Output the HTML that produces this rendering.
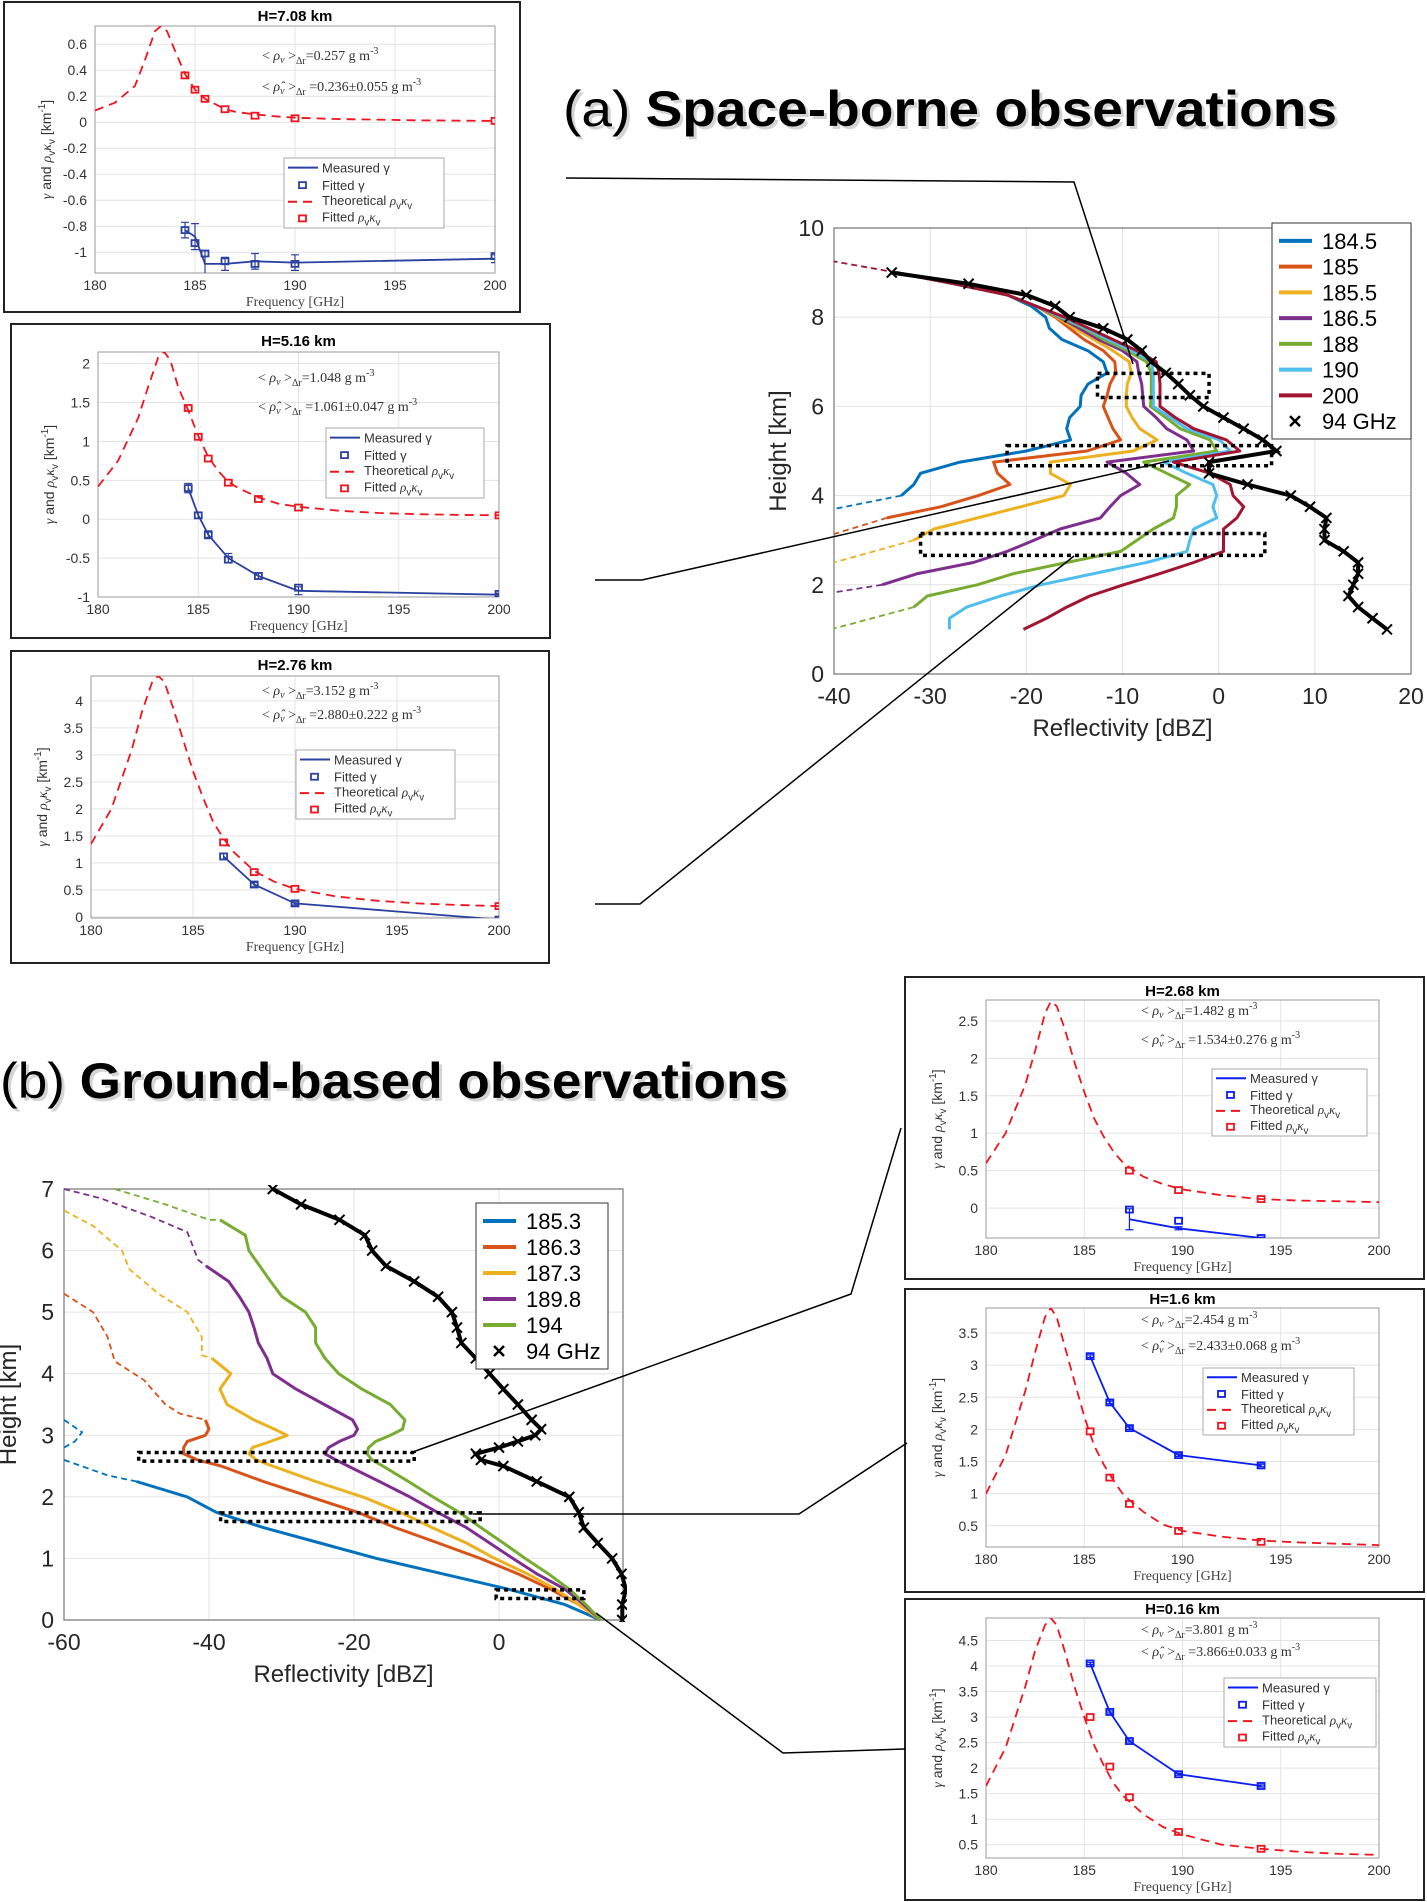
<!DOCTYPE html>
<html><head><meta charset="utf-8"><title>Space-borne and ground-based radar observations</title>
<style>
html,body{margin:0;padding:0;background:#fff;}
svg{display:block;font-family:"Liberation Sans",sans-serif;}
</style></head>
<body>
<svg id="fig" xmlns="http://www.w3.org/2000/svg" width="1427" height="1902" viewBox="0 0 1427 1902">
<rect x="0" y="0" width="1427" height="1902" fill="#fff"/>
<g>
<text x="566" y="129" font-size="50" fill="#aaa" opacity="0.5" textLength="774" lengthAdjust="spacingAndGlyphs">(a) <tspan font-weight="bold">Space-borne observations</tspan></text>
<text x="563" y="126" font-size="50" fill="#000" textLength="774" lengthAdjust="spacingAndGlyphs">(a) <tspan font-weight="bold">Space-borne observations</tspan></text>
</g>
<g>
<text x="3" y="1101" font-size="50" fill="#aaa" opacity="0.5" textLength="788" lengthAdjust="spacingAndGlyphs">(b) <tspan font-weight="bold">Ground-based observations</tspan></text>
<text x="0" y="1098" font-size="50" fill="#000" textLength="788" lengthAdjust="spacingAndGlyphs">(b) <tspan font-weight="bold">Ground-based observations</tspan></text>
</g>
</svg>
<script>
// ---------- data: small panels ----------
const THEO_FREQ = [180,181,182,182.5,183,183.3,183.6,184,184.5,185,185.5,186,186.5,187,188,189,190,192,194,196,198,200];

const P1_THEO = [0.09,0.15,0.28,0.48,0.70,0.74,0.70,0.55,0.37,0.25,0.18,0.14,0.10,0.08,0.06,0.045,0.035,0.025,0.02,0.015,0.012,0.01];
const P1_FREQ = [184.5,185,185.5,186.5,188,190,200];
const P1_FIT = [0.36,0.25,0.18,0.10,0.05,0.03,0.01];
const P1_MEAS = [-0.83,-0.88,-1.09,-1.09,-1.07,-1.08,-1.05];
const P1_SQ = [-0.83,-0.93,-1.01,-1.07,-1.09,-1.09,-1.03];
const P1_ERR = [0.06,0.1,0.1,0.05,0.06,0.06,0.03];

const P2_THEO = [0.42,0.75,1.3,1.7,2.08,2.15,2.05,1.7,1.4,1.07,0.8,0.62,0.48,0.4,0.28,0.2,0.16,0.11,0.08,0.065,0.055,0.05];
const P2_FREQ = [184.5,185,185.5,186.5,188,190,200];
const P2_FIT = [1.43,1.06,0.78,0.47,0.26,0.15,0.05];
const P2_MEAS = [0.4,0.05,-0.2,-0.5,-0.73,-0.92,-0.97];
const P2_SQ = [0.4,0.05,-0.2,-0.52,-0.73,-0.88,-0.96];
const P2_ERR = [0.06,0.04,0.05,0.06,0.04,0.05,0.02];

const P3_THEO = [1.35,2.0,3.1,3.8,4.35,4.46,4.35,3.9,3.3,2.7,2.2,1.75,1.45,1.2,0.85,0.65,0.52,0.38,0.3,0.25,0.22,0.2];
const P3_FREQ = [186.5,188,190,200];
const P3_FIT = [1.38,0.83,0.52,0.2];
const P3_MEAS = [1.12,0.6,0.25,-0.05];
const P3_SQ = [1.12,0.6,0.25,-0.05];
const P3_ERR = [0.06,0.04,0.03,0.02];

const P4_THEO = [0.6,1.0,1.65,2.1,2.6,2.76,2.7,2.4,1.95,1.55,1.2,0.95,0.75,0.6,0.42,0.32,0.25,0.17,0.12,0.1,0.09,0.08];
const P4_FREQ = [187.3,189.8,194];
const P4_FIT = [0.5,0.24,0.12];
const P4_MEAS = [-0.15,-0.27,-0.4];
const P4_SQ = [-0.02,-0.17,-0.4];
const P4_ERR = [0.14,0.02,0.01];

const P5_THEO = [1.0,1.6,2.6,3.2,3.75,3.89,3.75,3.3,2.75,2.2,1.75,1.45,1.2,0.98,0.72,0.52,0.42,0.33,0.27,0.24,0.22,0.2];
const P5_FREQ = [185.3,186.3,187.3,189.8,194];
const P5_FIT = [1.97,1.25,0.84,0.42,0.25];
const P5_MEAS = [3.14,2.42,2.02,1.6,1.44];
const P5_SQ = [3.14,2.42,2.02,1.6,1.44];
const P5_ERR = [0.02,0.02,0.02,0.02,0.02];

const P6_THEO = [1.65,2.4,3.6,4.3,4.8,4.94,4.8,4.3,3.6,3.0,2.45,2.05,1.7,1.45,1.1,0.85,0.7,0.5,0.42,0.36,0.32,0.3];
const P6_FREQ = [185.3,186.3,187.3,189.8,194];
const P6_FIT = [3.0,2.03,1.43,0.75,0.42];
const P6_MEAS = [4.05,3.1,2.53,1.88,1.65];
const P6_SQ = [4.05,3.1,2.53,1.88,1.65];
const P6_ERR = [0.02,0.02,0.02,0.02,0.02];

const FREQ_TICKS = [180,185,190,195,200];
const P1_YTICKS = [-1,-0.8,-0.6,-0.4,-0.2,0,0.2,0.4,0.6];
const P2_YTICKS = [-1,-0.5,0,0.5,1,1.5,2];
const P3_YTICKS = [0,0.5,1,1.5,2,2.5,3,3.5,4];
const P4_YTICKS = [0,0.5,1,1.5,2,2.5];
const P5_YTICKS = [0.5,1,1.5,2,2.5,3,3.5];
const P6_YTICKS = [0.5,1,1.5,2,2.5,3,3.5,4,4.5];

// ---------- data: space-borne profiles ----------
const A_HEIGHTS = [9.0,8.75,8.5,8.25,8.0,7.75,7.5,7.25,7.0,6.75,6.5,6.25,6.0,5.75,5.5,5.25,5.0,4.75,4.5,4.25,4.0,3.75,3.5,3.25,3.0,2.75,2.5,2.25,2.0,1.75,1.5,1.25,1.0];
const A_LABELS = ['184.5','185','185.5','186.5','188','190','200'];
const A_184 = [-33.5,-27.5,-22,-19.5,-18,-17.6,-16.3,-13.6,-12,-11.6,-13.6,-14.3,-14.4,-15.5,-15.8,-15.4,-20,-26.9,-31,-31.7,-33,null,null,null,null,null,null,null,null,null,null,null,null];
const A_185 = [-33.5,-27.5,-22,-19,-17,-15.5,-14,-12,-10.8,-10.7,-11.3,-11.6,-12,-11.5,-11,-10.2,-13.7,-23.4,-23,-21.7,-25,-28.9,-34.5,null,null,null,null,null,null,null,null,null,null];
const A_1855 = [-33.5,-27.5,-22,-19,-16.8,-15,-13,-11,-9.3,-9.1,-9.5,-9.6,-9.6,-9,-8.2,-6.4,-8.9,-17.5,-17.5,-15.4,-16.1,-20.6,-25.1,-29.6,-31.7,null,null,null,null,null,null,null,null];
const A_1865 = [-33.5,-27.5,-22,-19,-16.6,-14.5,-12.5,-10,-8.5,-8.3,-8.0,-7.9,-7.8,-6.5,-5.4,-3.3,-2.6,-11.6,-9.6,-8.2,-10.2,-11.3,-12.3,-16.5,-19.2,-22,-25.5,-31.3,-35,null,null,null,null];
const A_188 = [-33.5,-27.5,-22,-19,-16.5,-14,-12,-9.5,-7.5,-7,-7,-7,-7.1,-5.5,-4,-0.9,-0.2,-7.8,-5.4,-3,-4.4,-4.4,-4.7,-6.8,-8.5,-10.2,-15.8,-21.3,-25.1,-30.3,-31.7,null,null];
const A_190 = [-33.5,-27.5,-22,-19,-16.3,-13.8,-11.5,-9,-7,-6.8,-6.8,-6.8,-6.8,-5,-3.3,0.1,1.2,-5.7,-3.3,-0.6,-0.2,-0.6,-0.2,-2.6,-3,-3.3,-7.5,-13,-18.5,-22.7,-26.2,-28,-28];
const A_200 = [-33.5,-27.5,-22,-19,-16,-13.5,-11,-8.5,-6.5,-6.2,-6.1,-6.1,-6.1,-4.5,-2.6,0.8,2.2,-4.7,-0.9,1.2,1.5,2.6,1.9,0.5,0.5,0.5,-2.6,-6.1,-9.9,-13.4,-15.8,-17.9,-20.3];
const A_94 = [-34,-26,-20,-17,-15.5,-12,-9.5,-8,-7,-5.5,-4.2,-3,-1.6,0.5,2.6,4.6,6,-1,-1,3,7.5,9.5,11.2,11,11,13,14.5,14.5,14,13.5,14.5,16,17.5];
// dashed extrapolations [dBZ, km]
const A_EXT_184 = [[-33,4.0],[-40,3.7]];
const A_EXT_185 = [[-34.5,3.5],[-40,3.14]];
const A_EXT_1855 = [[-31.7,3.0],[-40,2.5]];
const A_EXT_1865 = [[-35,2.0],[-40,1.83]];
const A_EXT_188 = [[-31.7,1.5],[-40,1.02]];
const A_EXT_200 = [[-33.5,9.0],[-40,9.25]];
const A_XTICKS = [-40,-30,-20,-10,0,10,20];
const A_YTICKS = [0,2,4,6,8,10];
const A_BOX1 = [-12.6,-1.0,6.2,6.74];
const A_BOX2 = [-22,5.5,4.67,5.12];
const A_BOX3 = [-31,4.8,2.66,3.15];

// ---------- data: ground-based profiles ----------
const B_HEIGHTS = [7,6.75,6.5,6.25,6,5.75,5.5,5.25,5,4.75,4.5,4.25,4,3.75,3.5,3.25,3.1,3.0,2.9,2.8,2.7,2.6,2.5,2.25,2.0,1.75,1.5,1.25,1.0,0.75,0.5,0.25,0];
const B_LABELS = ['185.3','186.3','187.3','189.8','194'];
const B_185 = [null,null,null,null,null,null,null,null,null,null,null,null,null,null,null,null,null,null,null,null,null,null,null,-50,-43,-39,-32.5,-24.7,-16.9,-7.8,1.3,9.1,14];
const B_186 = [null,null,null,null,null,null,null,null,null,null,null,null,null,null,null,-40.5,-40,-40.5,-43,-43.5,-43.5,-41.6,-38.3,-32.5,-26,-19.5,-14.3,-8.4,-2.6,2.6,7.1,11,14];
const B_187 = [null,null,null,null,null,null,null,null,null,null,null,-39.6,-37,-38.5,-37.5,-33.8,-31,-29.2,-31.5,-34,-34.5,-33.5,-31.2,-25.3,-18.8,-13.6,-9.2,-4.5,-0.6,3.9,7.8,11,14];
const B_189 = [null,null,null,null,null,-40.4,-37.3,-35.8,-34.5,-33.8,-33.2,-32,-31.2,-28,-24.1,-20.2,-19.5,-20,-22,-23.5,-24,-22.5,-20.8,-16.5,-12.3,-8.5,-4.5,-1.3,1.9,5.2,9.1,11.7,14];
const B_194 = [null,null,-38.5,-35,-34.5,-33,-31.5,-29.9,-26.7,-25.3,-25.3,-24,-22.1,-18.9,-15,-13,-13.3,-15,-17,-18,-18.2,-17.5,-16,-12.5,-9.1,-5.5,-2.5,0.6,3.6,6.8,9.7,12,14];
const B_94 = [-31.2,-27.3,-22,-18.5,-17.5,-15.6,-11.7,-8.4,-6.5,-5.8,-5.2,-3.2,-1.3,0.6,2.6,4.5,5.8,5,2.6,0,-3.2,-2.5,0.6,5.2,9.7,11,11.7,13.6,15.6,16.9,17.5,17.0,17.0];
const B_EXT_185A = [[-60,3.25],[-57.5,3.05],[-58.5,2.9],[-60,2.8]];
const B_EXT_185B = [[-60,2.6],[-54,2.35],[-50,2.25]];
const B_EXT_186 = [[-60,5.3],[-56,5.0],[-54,4.6],[-53,4.2],[-49,3.9],[-46,3.5],[-44,3.35],[-40.5,3.25]];
const B_EXT_187 = [[-60,6.65],[-56,6.4],[-52,6.0],[-51,5.7],[-47,5.3],[-43,5.0],[-41,4.6],[-41,4.3],[-39.6,4.25]];
const B_EXT_189 = [[-60,7.0],[-55,6.85],[-48,6.55],[-43,6.3],[-42,6.0],[-41.5,5.85],[-40.4,5.75]];
const B_EXT_194 = [[-53,7.0],[-46,6.75],[-40,6.5],[-38.5,6.5]];
const B_XTICKS = [-60,-40,-20,0];
const B_YTICKS = [0,1,2,3,4,5,6,7];
const B_BOX1 = [-49.7,-11.7,2.58,2.72];
const B_BOX2 = [-38.4,-2.6,1.6,1.74];
const B_BOX3 = [-0.4,11.7,0.35,0.49];

// ---------- helpers ----------
const NS = 'http://www.w3.org/2000/svg';
const svg = document.getElementById('fig');
function el(tag, attrs, parent){
  const e = document.createElementNS(NS, tag);
  for (const k in attrs) e.setAttribute(k, attrs[k]);
  (parent || svg).appendChild(e);
  return e;
}
function group(name, parent){
  const g = el('g', {}, parent);
  
  
  return g;
}
function txt(str, attrs, parent, name){
  const t = el('text', attrs, parent);
  t.textContent = str;
  
  
  return t;
}
const COLS_A = ['#0072BD','#D95319','#EDB120','#7E2F8E','#77AC30','#4DBEEE','#A2142F'];

function rhoKappa(prefix, attrs, parent, name){
  const t = el('text', attrs, parent);
  
  
  const a = el('tspan', {}, t); a.textContent = prefix;
  const b = el('tspan', {'font-family':'Liberation Serif, serif','font-style':'italic'}, t); b.textContent = 'ρ';
  const c = el('tspan', {'font-size':'0.75em', dy:'4'}, t); c.textContent = 'v';
  const d = el('tspan', {'font-family':'Liberation Serif, serif','font-style':'italic', dy:'-4'}, t); d.textContent = 'κ';
  const e = el('tspan', {'font-size':'0.75em', dy:'4'}, t); e.textContent = 'v';
  return t;
}

// ---------- small panel ----------
function drawPanel(cfg){
  const g = group(cfg.name);
  const box = el('rect', {x:cfg.box[0], y:cfg.box[1], width:cfg.box[2], height:cfg.box[3], fill:'#fff', stroke:'#222', 'stroke-width':2}, g);
  
  
  const L=cfg.L,R=cfg.R,T=cfg.T,B=cfg.B;
  const sx = f => L + (f-180)/20*(R-L);
  const sy = v => B - (v-cfg.ymin)/(cfg.ymax-cfg.ymin)*(B-T);
  const grid = group('grid', g);
  FREQ_TICKS.forEach(f => {
    const l = el('line', {x1:sx(f), x2:sx(f), y1:T, y2:B, stroke:'#e3e3e3', 'stroke-width':1}, grid);
    
    
    txt(String(f), {x:sx(f), y:B+17, 'font-size':14, 'text-anchor':'middle', fill:'#333'}, g, 'x-tick-label');
  });
  cfg.yticks.forEach(v => {
    const l = el('line', {x1:L, x2:R, y1:sy(v), y2:sy(v), stroke:'#e3e3e3', 'stroke-width':1}, grid);
    
    
    txt(String(v), {x:L-8, y:sy(v)+5, 'font-size':14, 'text-anchor':'end', fill:'#333'}, g, 'y-tick-label');
  });
  const fr = el('rect', {x:L, y:T, width:R-L, height:B-T, fill:'none', stroke:'#999', 'stroke-width':1}, g);
  
  
  txt(cfg.title, {x:(L+R)/2, y:cfg.titleY, 'font-size':15, 'font-weight':'bold', 'text-anchor':'middle', fill:'#000'}, g, 'panel-title');
  txt('Frequency [GHz]', {x:(L+R)/2, y:B+33, 'font-size':14, 'text-anchor':'middle', fill:'#444', 'font-family':'Liberation Serif, serif'}, g, 'x-axis-title');
  const yl = el('text', {transform:`translate(${L-44},${(T+B)/2}) rotate(-90)`, 'font-size':14, 'text-anchor':'middle', fill:'#333'}, g);
  
  
  const y1 = el('tspan', {'font-family':'Liberation Serif, serif','font-style':'italic'}, yl); y1.textContent = 'γ';
  const y2 = el('tspan', {}, yl); y2.textContent = ' and ';
  const y3 = el('tspan', {'font-family':'Liberation Serif, serif','font-style':'italic'}, yl); y3.textContent = 'ρ';
  const y4 = el('tspan', {'font-size':'10', dy:'4'}, yl); y4.textContent = 'v';
  const y5 = el('tspan', {'font-family':'Liberation Serif, serif','font-style':'italic', dy:'-4'}, yl); y5.textContent = 'κ';
  const y6 = el('tspan', {'font-size':'10', dy:'4'}, yl); y6.textContent = 'v';
  const y7 = el('tspan', {dy:'-4'}, yl); y7.textContent = ' [km';
  const y8 = el('tspan', {'font-size':'10', dy:'-6'}, yl); y8.textContent = '-1';
  const y9 = el('tspan', {dy:'6'}, yl); y9.textContent = ']';
  const cpId = cfg.name + '-clip';
  const cp = el('clipPath', {id:cpId}, g);
  el('rect', {x:L, y:T, width:R-L, height:B-T}, cp);
  const plot = group('plot-marks', g);
  plot.setAttribute('clip-path', `url(#${cpId})`);
  const tp = THEO_FREQ.map((f,i)=>`${sx(f).toFixed(1)},${sy(cfg.theo[i]).toFixed(1)}`).join(' ');
  const th = el('polyline', {points:tp, fill:'none', stroke:'#f0141e', 'stroke-width':1.8, 'stroke-dasharray':'9,6'}, plot);
  
  
  const mp = cfg.freq.map((f,i)=>`${sx(f).toFixed(1)},${sy(cfg.meas[i]).toFixed(1)}`).join(' ');
  const ms = el('polyline', {points:mp, fill:'none', stroke:cfg.blue, 'stroke-width':1.8}, plot);
  
  
  cfg.freq.forEach((f,i)=>{
    const x = sx(f), v = cfg.meas[i], e = cfg.err[i];
    const eb = el('path', {d:`M${x},${sy(v-e)}V${sy(v+e)}M${x-4},${sy(v-e)}H${x+4}M${x-4},${sy(v+e)}H${x+4}`, stroke:cfg.blue, 'stroke-width':1.2, fill:'none'}, plot);
    
    
    const sq = el('rect', {x:x-3.5, y:sy(cfg.sq[i])-3, width:7, height:6, fill:'none', stroke:cfg.blue, 'stroke-width':1.8}, plot);
    
    
    const rs = el('rect', {x:x-3.5, y:sy(cfg.fit[i])-3, width:7, height:6, fill:'none', stroke:'#f0141e', 'stroke-width':1.8}, plot);
    
    
  });
  const an = group('density-annotation', g);
  const a1 = el('text', {x:cfg.ann[0], y:cfg.ann[1], 'font-size':14, fill:'#333', 'font-family':'Liberation Serif, serif'}, an);
  
  
  const a1a = el('tspan', {}, a1); a1a.textContent = '< ';
  const a1b = el('tspan', {'font-style':'italic'}, a1); a1b.textContent = 'ρ';
  const a1c = el('tspan', {'font-size':10, dy:3, 'font-style':'italic'}, a1); a1c.textContent = 'v';
  const a1d = el('tspan', {dy:-3}, a1); a1d.textContent = ' >';
  const a1e = el('tspan', {'font-size':10, dy:4}, a1); a1e.textContent = 'Δr';
  const a1f = el('tspan', {dy:-4}, a1); a1f.textContent = '=' + cfg.annText[0] + ' g m';
  const a1g = el('tspan', {'font-size':10, dy:-6}, a1); a1g.textContent = '-3';
  const a2 = el('text', {x:cfg.ann[0], y:cfg.ann[2], 'font-size':14, fill:'#333', 'font-family':'Liberation Serif, serif'}, an);
  
  
  const a2a = el('tspan', {}, a2); a2a.textContent = '< ';
  const a2b = el('tspan', {'font-style':'italic'}, a2); a2b.textContent = 'ρ̂';
  const a2c = el('tspan', {'font-size':10, dy:3, 'font-style':'italic'}, a2); a2c.textContent = 'v';
  const a2d = el('tspan', {dy:-3}, a2); a2d.textContent = ' >';
  const a2e = el('tspan', {'font-size':10, dy:4}, a2); a2e.textContent = 'Δr';
  const a2f = el('tspan', {dy:-4}, a2); a2f.textContent = ' =' + cfg.annText[1] + ' g m';
  const a2g = el('tspan', {'font-size':10, dy:-6}, a2); a2g.textContent = '-3';
  const lg = group('legend', g);
  const [lx,ly,lw,lh] = cfg.legend;
  const lr = el('rect', {x:lx, y:ly, width:lw, height:lh, fill:'#fff', stroke:'#aaa', 'stroke-width':1}, lg);
  
  
  const rh = lh/4;
  const s1 = el('line', {x1:lx+4, x2:lx+34, y1:ly+rh*0.55, y2:ly+rh*0.55, stroke:cfg.blue, 'stroke-width':2}, lg);
  
  
  txt('Measured γ', {x:lx+38, y:ly+rh*0.55+5, 'font-size':13, fill:'#333'}, lg, 'legend-measured-label');
  const s2 = el('rect', {x:lx+15, y:ly+rh*1.55-3, width:7, height:6, fill:'none', stroke:cfg.blue, 'stroke-width':1.8}, lg);
  
  
  txt('Fitted γ', {x:lx+38, y:ly+rh*1.55+5, 'font-size':13, fill:'#333'}, lg, 'legend-fitted-gamma-label');
  const s3 = el('line', {x1:lx+4, x2:lx+34, y1:ly+rh*2.5, y2:ly+rh*2.5, stroke:'#f0141e', 'stroke-width':2, 'stroke-dasharray':'9,6'}, lg);
  
  
  rhoKappa('Theoretical ', {x:lx+38, y:ly+rh*2.45+4, 'font-size':13, fill:'#333'}, lg, 'legend-theoretical-label');
  const s4 = el('rect', {x:lx+15, y:ly+rh*3.45-3, width:7, height:6, fill:'none', stroke:'#f0141e', 'stroke-width':1.8}, lg);
  
  
  rhoKappa('Fitted ', {x:lx+38, y:ly+rh*3.45+3, 'font-size':13, fill:'#333'}, lg, 'legend-fitted-rho-label');
}

drawPanel({name:'panel-h708', box:[4,2,516,310], L:95,R:495,T:26,B:273, ymin:-1.16, ymax:0.74, yticks:P1_YTICKS, title:'H=7.08 km', titleY:21,
  theo:P1_THEO, freq:P1_FREQ, fit:P1_FIT, meas:P1_MEAS, sq:P1_SQ, err:P1_ERR, blue:'#2b41a0',
  ann:[262,60,91], annText:['0.257','0.236±0.055'], legend:[284,158,160,70]});
drawPanel({name:'panel-h516', box:[11,324,539,314], L:98,R:499,T:352,B:597, ymin:-1.0, ymax:2.15, yticks:P2_YTICKS, title:'H=5.16 km', titleY:346,
  theo:P2_THEO, freq:P2_FREQ, fit:P2_FIT, meas:P2_MEAS, sq:P2_SQ, err:P2_ERR, blue:'#2b41a0',
  ann:[258,382,411], annText:['1.048','1.061±0.047'], legend:[326,428,158,70]});
drawPanel({name:'panel-h276', box:[11,651,538,312], L:91,R:499,T:676,B:918, ymin:-0.02, ymax:4.46, yticks:P3_YTICKS, title:'H=2.76 km', titleY:670,
  theo:P3_THEO, freq:P3_FREQ, fit:P3_FIT, meas:P3_MEAS, sq:P3_SQ, err:P3_ERR, blue:'#2b41a0',
  ann:[262,695,719], annText:['3.152','2.880±0.222'], legend:[296,750,159,69]});
drawPanel({name:'panel-h268', box:[905,977,519,302], L:986,R:1379,T:1000,B:1238, ymin:-0.40, ymax:2.78, yticks:P4_YTICKS, title:'H=2.68 km', titleY:996,
  theo:P4_THEO, freq:P4_FREQ, fit:P4_FIT, meas:P4_MEAS, sq:P4_SQ, err:P4_ERR, blue:'#0a1ef0',
  ann:[1141,1015,1044], annText:['1.482','1.534±0.276'], legend:[1212,1069,155,67]});
drawPanel({name:'panel-h160', box:[905,1289,519,303], L:986,R:1379,T:1308,B:1547, ymin:0.17, ymax:3.89, yticks:P5_YTICKS, title:'H=1.6 km', titleY:1304,
  theo:P5_THEO, freq:P5_FREQ, fit:P5_FIT, meas:P5_MEAS, sq:P5_SQ, err:P5_ERR, blue:'#0a1ef0',
  ann:[1141,1324,1350], annText:['2.454','2.433±0.068'], legend:[1203,1368,151,67]});
drawPanel({name:'panel-h016', box:[905,1599,519,301], L:986,R:1379,T:1618,B:1858, ymin:0.24, ymax:4.94, yticks:P6_YTICKS, title:'H=0.16 km', titleY:1614,
  theo:P6_THEO, freq:P6_FREQ, fit:P6_FIT, meas:P6_MEAS, sq:P6_SQ, err:P6_ERR, blue:'#0a1ef0',
  ann:[1141,1634,1656], annText:['3.801','3.866±0.033'], legend:[1224,1678,152,69]});

// ---------- profile chart ----------
function drawProfile(cfg){
  const g = group(cfg.name);
  const {L,R,T,B} = cfg;
  const sx = v => L + (v-cfg.xmin)/(cfg.xmax-cfg.xmin)*(R-L);
  const sy = h => B - (h-cfg.ymin)/(cfg.ymax-cfg.ymin)*(B-T);
  const grid = group('grid', g);
  cfg.xticks.forEach(v=>{
    const l = el('line', {x1:sx(v), x2:sx(v), y1:T, y2:B, stroke:'#e3e3e3', 'stroke-width':1}, grid);
    
    
    txt(String(v), {x:sx(v), y:B+30, 'font-size':23, 'text-anchor':'middle', fill:'#262626'}, g, 'x-tick-label');
  });
  cfg.yticks.forEach(v=>{
    const l = el('line', {x1:L, x2:R, y1:sy(v), y2:sy(v), stroke:'#e3e3e3', 'stroke-width':1}, grid);
    
    
    txt(String(v), {x:L-10, y:sy(v)+8, 'font-size':23, 'text-anchor':'end', fill:'#262626'}, g, 'y-tick-label');
  });
  const fr = el('path', {d:`M${L},${T}H${R}V${B}H${L}Z`, fill:'none', stroke:'#777', 'stroke-width':1.2}, g);
  
  
  txt('Reflectivity [dBZ]', {x:(L+R)/2, y:B+62, 'font-size':24, 'text-anchor':'middle', fill:'#262626'}, g, 'x-axis-title');
  txt('Height [km]', {transform:`translate(${L-48},${(T+B)/2}) rotate(-90)`, 'font-size':24, 'text-anchor':'middle', fill:'#262626'}, g, 'y-axis-title');
  const cpId = cfg.name+'-clip';
  const cp = el('clipPath', {id:cpId}, g);
  el('rect', {x:L, y:T-4, width:R-L+4, height:B-T+6}, cp);
  const plot = group('plot-marks', g);
  plot.setAttribute('clip-path', `url(#${cpId})`);
  cfg.exts.forEach(([pts,ci])=>{
    const p = el('polyline', {points:pts.map(q=>`${sx(q[0]).toFixed(1)},${sy(q[1]).toFixed(1)}`).join(' '), fill:'none', stroke:cfg.colors[ci], 'stroke-width':1.8, 'stroke-dasharray':'6,4'}, plot);
    
    
  });
  cfg.series.forEach((vals,si)=>{
    const pts=[];
    vals.forEach((v,i)=>{ if(v!==null) pts.push(`${sx(v).toFixed(1)},${sy(cfg.heights[i]).toFixed(1)}`); });
    const p = el('polyline', {points:pts.join(' '), fill:'none', stroke:cfg.colors[si], 'stroke-width':3, 'stroke-linejoin':'round'}, plot);
    
    
  });
  const mk = group('profile-94ghz', plot);
  const lp = cfg.black.map((v,i)=>`${sx(v).toFixed(1)},${sy(cfg.heights[i]).toFixed(1)}`).join(' ');
  const bl = el('polyline', {points:lp, fill:'none', stroke:'#000', 'stroke-width':4}, mk);
  
  
  cfg.black.forEach((v,i)=>{
    const x=sx(v), y=sy(cfg.heights[i]);
    const m = el('path', {d:`M${x-5},${y-5}L${x+5},${y+5}M${x-5},${y+5}L${x+5},${y-5}`, stroke:'#000', 'stroke-width':2}, mk);
    
    
  });
  cfg.boxes.forEach(b=>{
    const r = el('rect', {x:sx(b[0]), y:sy(b[3]), width:sx(b[1])-sx(b[0]), height:sy(b[2])-sy(b[3]), fill:'none', stroke:'#000', 'stroke-width':3.5, 'stroke-dasharray':'4,4'}, g);
    
    
  });
  const lg = group('legend', g);
  const [lx,ly,lw,lh] = cfg.legend;
  const lr = el('rect', {x:lx, y:ly, width:lw, height:lh, fill:'#fff', stroke:'#333', 'stroke-width':1}, lg);
  
  
  const n = cfg.labels.length + 1;
  const rh = (lh-10)/n;
  cfg.labels.forEach((lab,i)=>{
    const yy = ly+5+rh*(i+0.5);
    const s = el('line', {x1:lx+7, x2:lx+40, y1:yy, y2:yy, stroke:cfg.colors[i], 'stroke-width':4}, lg);
    
    
    txt(lab, {x:lx+50, y:yy+8, 'font-size':22, fill:'#000'}, lg, 'legend-label-'+lab);
  });
  const yy = ly+5+rh*(n-0.5);
  const xm = el('path', {d:`M${lx+18},${yy-5}l10,10M${lx+18},${yy+5}l10,-10`, stroke:'#000', 'stroke-width':2.5}, lg);
  
  
  txt('94 GHz', {x:lx+50, y:yy+8, 'font-size':22, fill:'#000'}, lg, 'legend-label-94ghz');
}

drawProfile({name:'chart-space-borne', L:834,R:1411,T:228,B:674, xmin:-40,xmax:20, ymin:0,ymax:10,
  xticks:A_XTICKS, yticks:A_YTICKS, heights:A_HEIGHTS, labels:A_LABELS, colors:COLS_A,
  series:[A_184,A_185,A_1855,A_1865,A_188,A_190,A_200], black:A_94,
  exts:[[A_EXT_184,0],[A_EXT_185,1],[A_EXT_1855,2],[A_EXT_1865,3],[A_EXT_188,4],[A_EXT_200,6]],
  boxes:[A_BOX1,A_BOX2,A_BOX3], legend:[1272,223,139,216]});
drawProfile({name:'chart-ground-based', L:64,R:623,T:1189,B:1620, xmin:-60,xmax:17.1, ymin:0,ymax:7,
  xticks:B_XTICKS, yticks:B_YTICKS, heights:B_HEIGHTS, labels:B_LABELS, colors:COLS_A,
  series:[B_185,B_186,B_187,B_189,B_194], black:B_94,
  exts:[[B_EXT_185A,0],[B_EXT_185B,0],[B_EXT_186,1],[B_EXT_187,2],[B_EXT_189,3],[B_EXT_194,4]],
  boxes:[B_BOX1,B_BOX2,B_BOX3], legend:[476,1203,132,166]});

// ---------- connector lines ----------
const conn = group('connector-lines');
[
 'M566,178 L1074,182 L1133,364',
 'M595,580 L642,580 L1169,461',
 'M595,904 L640,904 L1074,556',
 'M410,1453 L851,1294 L901,1128',
 'M473,1514 L799,1514 L907,1443',
 'M596,1613 L783,1753 L905,1749'
].forEach(d=>{
  const p = el('path', {d:d, fill:'none', stroke:'#000', 'stroke-width':1.5}, conn);
  
  
});
</script>
</body></html>
